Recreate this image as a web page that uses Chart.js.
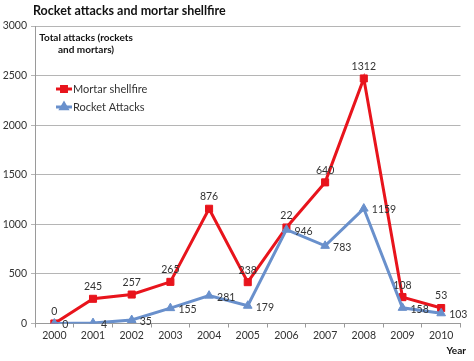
<!DOCTYPE html>
<html><head><meta charset="utf-8">
<script src="https://cdn.jsdelivr.net/npm/chart.js@4"></script>
<style>html,body{margin:0;padding:0;background:#fff;}#wrap{width:474px;height:361px;position:relative;}</style>
</head><body><div id="wrap"><canvas id="c" width="474" height="361"></canvas></div>
<script>
const years = ['2000','2001','2002','2003','2004','2005','2006','2007','2008','2009','2010'];
const mortarShellfire = [0,245,257,265,876,238,22,640,1312,108,53];
const rocketAttacks = [0,4,35,155,281,179,946,783,1159,158,103];
const chartTitle = 'Rocket attacks and mortar shellfire';
const yTitleLines = ['Total attacks (rockets', 'and mortars)'];
const xTitle = 'Year';

const RED = '#e8141c', BLUE = '#6990cc', TXT = '#333333', FONT = 'Lato, "Liberation Sans", sans-serif';

const overlay = {
  id: 'overlay',
  afterDatasetsDraw(chart) {
    const ctx = chart.ctx;
    ctx.save();
    ctx.font = '10.5px ' + FONT;
    ctx.fillStyle = TXT;
    const mRocket = chart.getDatasetMeta(0), mMortar = chart.getDatasetMeta(1);
    ctx.textAlign = 'left'; ctx.textBaseline = 'middle';
    mRocket.data.forEach((p, i) => ctx.fillText(String(rocketAttacks[i]), p.x + 8, p.y + 1.5));
    ctx.textAlign = 'center';
    mMortar.data.forEach((p, i) => ctx.fillText(String(mortarShellfire[i]), p.x, p.y - 12));
    ctx.font = 'bold 12.5px ' + FONT;
    ctx.fillStyle = '#111';
    ctx.textAlign = 'left';
    ctx.fillText(chartTitle, 33, 11);
    ctx.font = 'bold 10px ' + FONT;
    ctx.textAlign = 'center';
    ctx.fillText(yTitleLines[0], 86, 38);
    ctx.fillText(yTitleLines[1], 86, 50);
    ctx.textAlign = 'right';
    ctx.fillText(xTitle, 466, 351);
    const items = [['Mortar shellfire', RED, 'rect', 89], ['Rocket Attacks', BLUE, 'triangle', 107]];
    ctx.font = '11px ' + FONT;
    ctx.textAlign = 'left';
    items.forEach(([label, col, style, y]) => {
      ctx.strokeStyle = col; ctx.lineWidth = 3;
      ctx.beginPath(); ctx.moveTo(56, y); ctx.lineTo(72, y); ctx.stroke();
      ctx.fillStyle = col;
      Chart.helpers.drawPoint(ctx, {pointStyle: style, radius: 3.5, borderWidth: 1}, 64, y);
      ctx.fillStyle = TXT;
      ctx.fillText(label, 73, y + 0.5);
    });
    ctx.restore();
  }
};

new Chart(document.getElementById('c'), {
  type: 'line',
  data: {
    labels: years,
    datasets: [
      { label: 'Rocket Attacks', data: rocketAttacks, borderColor: BLUE, backgroundColor: BLUE,
        borderWidth: 3, pointStyle: 'triangle', pointRadius: 5, pointBorderWidth: 1, tension: 0, fill: false },
      { label: 'Mortar shellfire', data: mortarShellfire, borderColor: RED, backgroundColor: RED,
        borderWidth: 3, pointStyle: 'rect', pointRadius: 5, pointBorderWidth: 1, tension: 0, fill: false }
    ]
  },
  options: {
    responsive: false, animation: false, devicePixelRatio: 1,
    layout: { padding: { left: 0, right: 13.5, top: 26, bottom: 0 } },
    plugins: { legend: { display: false }, tooltip: { enabled: false }, title: { display: false } },
    scales: {
      x: {
        offset: true,
        grid: { offset: true, drawOnChartArea: false, color: '#9a9a9a', tickLength: 4 },
        border: { color: '#9a9a9a' },
        ticks: { color: TXT, font: { family: FONT, size: 10.5 }, padding: 2, maxRotation: 0 },
        afterFit(s) { s.height = 37.5; }
      },
      y: {
        stacked: true, min: 0, max: 3000,
        grid: { color: '#b5b5b5', tickLength: 4 },
        border: { color: '#9a9a9a' },
        ticks: { stepSize: 500, color: TXT, font: { family: FONT, size: 10.5 }, padding: 4,
                 callback: v => String(v) },
        afterFit(s) { s.width = 35; }
      }
    }
  },
  plugins: [overlay]
});
</script></body></html>
